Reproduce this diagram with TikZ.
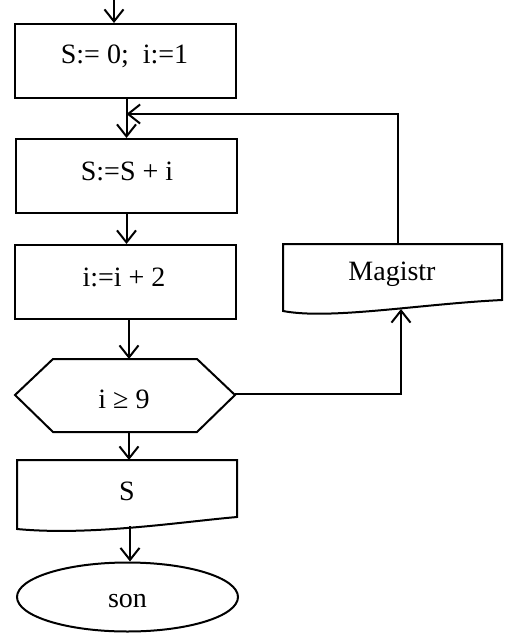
\documentclass[tikz,border=0pt]{standalone}
\usepackage{fontspec}
\setmainfont{Liberation Serif}
\usetikzlibrary{arrows.meta,shapes.geometric}
\begin{document}
\begin{tikzpicture}[x=1pt,y=-1pt,line width=2pt,
  arr/.style={-{Straight Barb[length=12pt,width=19pt]}},
  txt/.style={font=\fontsize{28}{32}\selectfont,inner sep=0pt},
  box/.style={draw,rectangle,minimum width=221pt,minimum height=74pt,inner sep=0pt,font=\fontsize{28}{32}\selectfont}]
\useasboundingbox (0,0) rectangle (505,633);
% process boxes
\node[box] (b1) at (125.5,61) {};
\node[txt] (t1) at (124.5,56) {S:= 0;\ \ i:=1};
\node[box] (b2) at (126.5,176) {};
\node[txt] (t2) at (127,171) {S:=S + i};
\node[box] (b3) at (125.5,282) {};
\node[txt] (t3) at (124,277) {i:=i + 2};
% decision hexagon
\draw (15,395) -- (53,359) -- (197,359) -- (235,395) -- (197,432) -- (53,432) -- cycle;
\node[txt] (cond) at (124,399) {i ≥ 9};
\coordinate (hexR) at (235,394);
\coordinate (hexT) at (129,359);
\coordinate (hexB) at (129,432);
% output document S
\draw (17,460) -- (237,460) -- (237,517) .. controls (180,522) and (90,536) .. (17,529) -- cycle;
\node[txt] (sout) at (127,491) {S};
\coordinate (sT) at (129,460);
\coordinate (sB) at (130,526);
% output document Magistr
\draw (283,244) -- (502,244) -- (502,300) .. controls (420,304) and (330,320) .. (283,311) -- cycle;
\node[txt] (mag) at (392,274) {Magistr};
\coordinate (magT) at (398,244);
\coordinate (magB) at (401,309);
% terminator
\node[draw,ellipse,minimum width=221pt,minimum height=69pt,inner sep=0pt] (son) at (127.5,597) {};
\node[txt] (tson) at (127.5,601) {son};
% connectors
\coordinate (start) at (114,0);
\coordinate (fb) at (126.5,114);
\draw[arr] (start) -- (start |- b1.north);
\draw[arr] (b1.south -| b2.north) -- (b2.north);
\draw[arr] (b2.south) -- (b2.south |- b3.north);
\draw[arr] (b3.south -| hexT) -- (hexT);
\draw[arr] (hexB) -- (sT);
\draw[arr] (sB) -- (sB |- son.north);
\draw[arr] (magT) |- (fb);
\draw[arr] (hexR) -| (magB);
\end{tikzpicture}
\end{document}
